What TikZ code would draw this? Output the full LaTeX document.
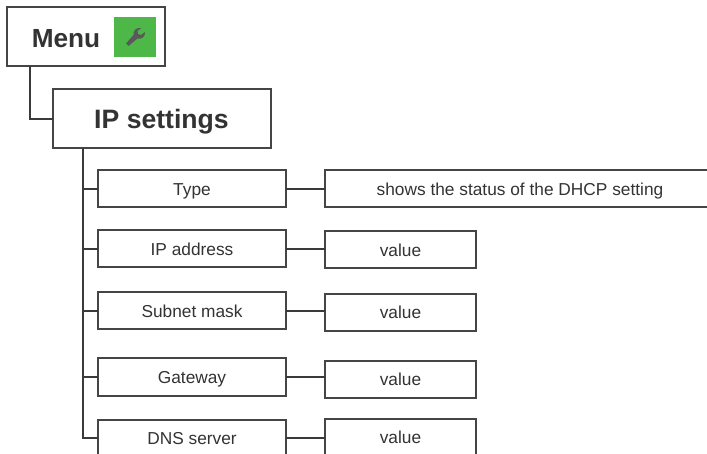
\documentclass[tikz,border=0pt]{standalone}
\usepackage{fontspec}
\setmainfont{Liberation Sans}
\definecolor{ink}{HTML}{454545}
\definecolor{lnk}{HTML}{3A3A3A}
\definecolor{txt}{HTML}{333333}
\definecolor{grn}{HTML}{4DB848}
\definecolor{wr}{HTML}{595959}
\tikzset{
  x=1pt,y=-1pt,
  boxbase/.style={draw=ink,line width=2pt,fill=white,text=txt,inner sep=0pt,outer sep=0pt,anchor=center},
  big/.style={boxbase,font=\fontsize{26.6}{30}\selectfont\bfseries,text height=19pt,text depth=0pt},
  small/.style={boxbase,font=\fontsize{17.3}{20}\selectfont,minimum height=37pt,text height=12.4pt,text depth=0pt},
  leftbox/.style={small,minimum width=188.5pt},
  valbox/.style={small,minimum width=151pt},
  link/.style={draw=lnk,line width=2pt}
}
\begin{document}
\begin{tikzpicture}
\clip (0,0) rectangle (707,454);
\fill[white] (0,0) rectangle (707,454);
\node[big,minimum width=158pt,minimum height=59pt] (menu) at (86,37) {};
\node[anchor=center,text=txt,font=\fontsize{26.2}{30}\selectfont\bfseries,inner sep=0pt,text height=19pt,text depth=0pt] (menutxt) at (66,38) {Menu};
\node[fill=grn,minimum width=42pt,minimum height=40pt,inner sep=0pt] (icon) at (135,37) {};
\begin{scope}[shift={(135.5,37)}]
  \fill[wr] (-9.5,6.5) -- (-7,9) -- (2,1.5) .. controls (6,2.5) and (10,0) .. (9.5,-5) -- (5.5,-2) -- (2.5,-3) -- (2,-6) -- (6,-9) .. controls (1,-10) and (-3,-6) .. (-2,-2) -- cycle;
\end{scope}
\node[big,minimum width=218pt,minimum height=59pt] (ip) at (161.5,119) {IP settings};
\coordinate (mstart) at (30,66.5);
\coordinate (tstart) at (83,148);
\draw[link] (mstart) |- (ip.west);
\node[leftbox] (type) at (192,189) {Type};
\node[leftbox] (addr) at (192,249) {IP address};
\node[leftbox] (mask) at (192,311) {Subnet mask};
\node[leftbox] (gw) at (192,377) {Gateway};
\node[leftbox] (dns) at (192,438) {DNS server};
\node[small,minimum width=391pt] (status) at (520,189) {shows the status of the DHCP setting};
\node[valbox] (v1) at (400.5,250) {value};
\node[valbox] (v2) at (400.5,312.5) {value};
\node[valbox] (v3) at (400.5,379.5) {value};
\node[valbox] (v4) at (400.5,437) {value};
\draw[link] (tstart) |- (dns.west);
\draw[link] (type.west -| tstart) -- (type.west);
\draw[link] (addr.west -| tstart) -- (addr.west);
\draw[link] (mask.west -| tstart) -- (mask.west);
\draw[link] (gw.west -| tstart) -- (gw.west);
\draw[link] (type.east) -- (status.west |- type.east);
\draw[link] (addr.east) -- (v1.west |- addr.east);
\draw[link] (mask.east) -- (v2.west |- mask.east);
\draw[link] (gw.east) -- (v3.west |- gw.east);
\draw[link] (dns.east) -- (v4.west |- dns.east);
\end{tikzpicture}
\end{document}
